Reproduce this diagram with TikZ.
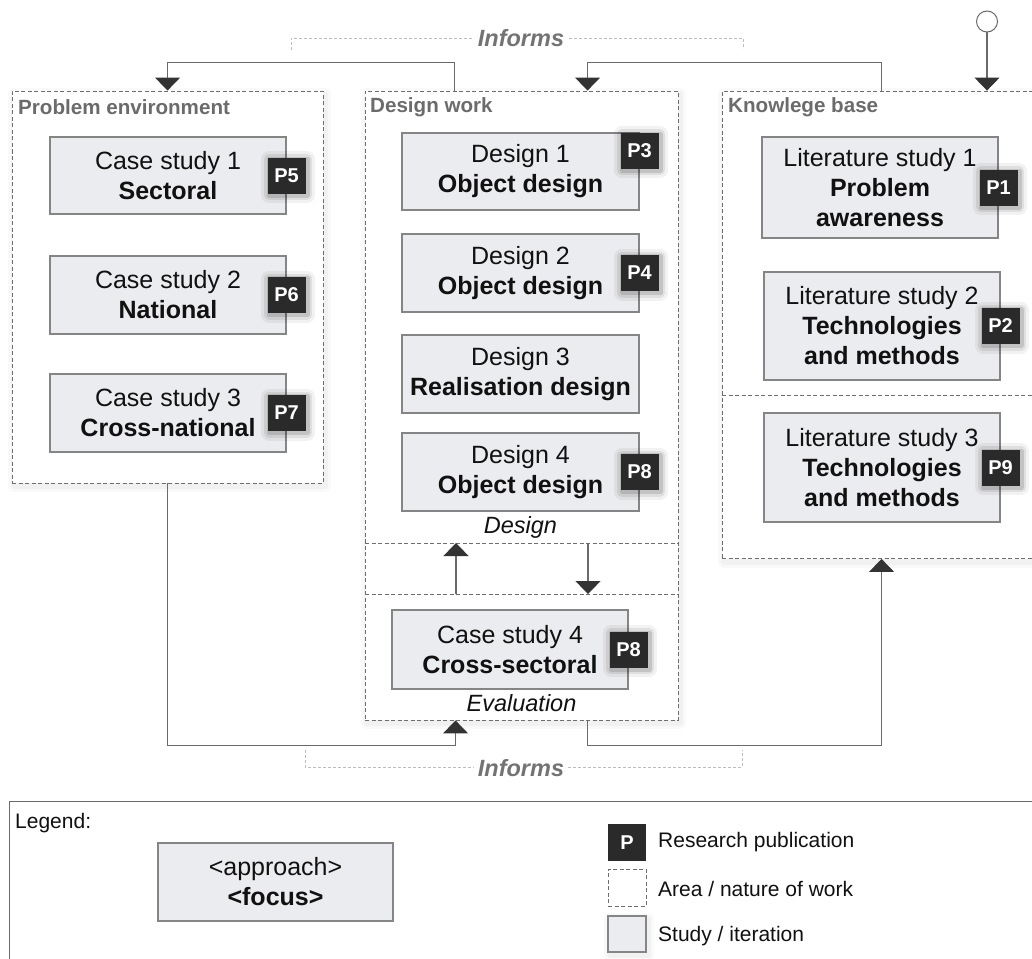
\documentclass[tikz,border=0pt]{standalone}
\usepackage{fontspec}
\setmainfont{Liberation Sans}
\usetikzlibrary{arrows.meta,calc}

\definecolor{boxfill}{HTML}{EBECEF}
\definecolor{boxline}{HTML}{858585}
\definecolor{badgec}{HTML}{2A2A2A}
\definecolor{panelline}{HTML}{6E6E6E}
\definecolor{titlegrey}{HTML}{6B6B6B}
\definecolor{connline}{HTML}{6A6A6A}
\definecolor{tipc}{HTML}{333333}
\definecolor{bracketc}{HTML}{BDBDBD}
\definecolor{informc}{HTML}{737373}
\definecolor{textc}{HTML}{111111}

\newcommand{\dgBoxFont}{\fontsize{25}{30}\selectfont}
\newcommand{\dgTitleFont}{\fontsize{20.6}{24}\selectfont\bfseries}
\newcommand{\dgBadgeFont}{\fontsize{20}{24}\selectfont\bfseries}
\newcommand{\dgCapFont}{\fontsize{23.5}{28}\selectfont\itshape}
\newcommand{\dgInformFont}{\fontsize{23.5}{28}\selectfont\bfseries\itshape}
\newcommand{\dgLegFont}{\fontsize{21}{25}\selectfont}

\tikzset{
  % soft halo built from stacked translucent strokes
  softglow/.style={
    preaction={draw=black, draw opacity=0.05, line width=16pt, line join=round, solid,
      transform canvas={shift={(1.5pt,-1.5pt)}}},
    preaction={draw=black, draw opacity=0.08, line width=10pt, line join=round, solid,
      transform canvas={shift={(1.5pt,-1.5pt)}}},
    preaction={draw=black, draw opacity=0.12, line width=5pt, line join=round, solid,
      transform canvas={shift={(1.5pt,-1.5pt)}}}},
  faintshadow/.style={
    preaction={draw=black, draw opacity=0.025, line width=12pt, line join=round, solid,
      transform canvas={shift={(2pt,-3pt)}}},
    preaction={draw=black, draw opacity=0.03, line width=6pt, line join=round, solid,
      transform canvas={shift={(2pt,-3pt)}}}},
  panel/.style={faintshadow, draw=panelline, dash pattern=on 4pt off 2.5pt, line width=0.9pt,
    fill=white, inner sep=0pt},
  paneltitle/.style={anchor=west, inner sep=0pt, text=titlegrey, font=\dgTitleFont},
  study/.style={draw=boxline, fill=boxfill, line width=1.1pt, align=center,
    inner sep=0pt, text=textc, font=\dgBoxFont, minimum width=236pt},
  pbadge/.style={softglow, fill=badgec, text=white, font=\dgBadgeFont, minimum width=38pt,
    minimum height=36pt, inner sep=0pt},
  caption/.style={inner sep=0pt, text=textc, font=\dgCapFont},
  divider/.style={draw=panelline, dash pattern=on 4pt off 2.5pt, line width=0.9pt},
  conn/.style={draw=connline, line width=1.1pt},
  arr/.style={-{Triangle[width=25pt,length=13pt,color=tipc]}},
  bracket/.style={draw=bracketc, dash pattern=on 3pt off 2pt, line width=0.8pt},
  informs/.style={fill=white, inner xsep=4pt, inner ysep=0pt, text=informc, font=\dgInformFont},
  legtext/.style={anchor=west, inner sep=0pt, text=textc, font=\dgLegFont},
}

\begin{document}
\begin{tikzpicture}[x=1pt, y=-1pt]
  \useasboundingbox (0,0) rectangle (1032,958);
  \clip (0,0) rectangle (1032,958);
  \fill[white] (0,0) rectangle (1032,958);

  % --- the three areas of work ---
  \node[panel, minimum width=311pt, minimum height=392pt] (pe) at (167.5,287) {};
  \node[panel, minimum width=313pt, minimum height=629pt] (dw) at (521.5,405.5) {};
  \node[panel, minimum width=328pt, minimum height=467.5pt] (kb) at (886,324.75) {};

  \node[paneltitle] (pet) at (18,107) {Problem environment};
  \node[paneltitle] (dwt) at (370,107) {Design work};
  \node[paneltitle] (kbt) at (728,107) {Knowlege base};

  % dashed splits inside the areas
  \coordinate (dsA) at (365,543);
  \coordinate (dsB) at (365,594);
  \draw[divider] (dsA) -- (678,543);
  \draw[divider] (dsB) -- (678,594);
  \draw[divider] (722,395) -- (1050,395);

  % --- problem environment studies ---
  \node[study, minimum height=77pt] (cs1) at (168,175.5) {Case study 1\\\textbf{Sectoral}};
  \node[study, minimum height=78pt] (cs2) at (168,295) {Case study 2\\\textbf{National}};
  \node[study, minimum height=78pt] (cs3) at (168,413) {Case study 3\\\textbf{Cross-national}};
  \node[pbadge] (p5) at (cs1.east) {P5};
  \node[pbadge] (p6) at (cs2.east) {P6};
  \node[pbadge] (p7) at (cs3.east) {P7};

  % --- design iterations ---
  \node[study, minimum height=77pt, minimum width=237pt] (d1) at (520.5,171.5) {Design 1\\\textbf{Object design}};
  \node[study, minimum height=78pt, minimum width=237pt] (d2) at (520.5,273) {Design 2\\\textbf{Object design}};
  \node[study, minimum height=78pt, minimum width=237pt] (d3) at (520.5,374) {Design 3\\\textbf{Realisation design}};
  \node[study, minimum height=78pt, minimum width=237pt] (d4) at (520.5,472) {Design 4\\\textbf{Object design}};
  \node[pbadge, anchor=north] (p3) at (d1.north east) {P3};
  \node[pbadge] (p4) at (d2.east) {P4};
  \node[pbadge] (p8a) at (d4.east) {P8};
  \node[caption] (capd) at (520.5,527) {Design};

  \node[study, minimum height=79pt] (cs4) at (510,649.5) {Case study 4\\\textbf{Cross-sectoral}};
  \node[pbadge] (p8b) at (cs4.east) {P8};
  \node[caption] (cape) at (521.5,703) {Evaluation};

  % --- literature studies ---
  \node[study, minimum height=101pt] (ls1) at (880,187.5) {Literature study 1\\\textbf{Problem}\\\textbf{awareness}};
  \node[study, minimum height=108pt] (ls2) at (882,326) {Literature study 2\\\textbf{Technologies}\\\textbf{and methods}};
  \node[study, minimum height=109pt] (ls3) at (882,467.5) {Literature study 3\\\textbf{Technologies}\\\textbf{and methods}};
  \node[pbadge] (p1) at (ls1.east) {P1};
  \node[pbadge] (p2) at (ls2.east) {P2};
  \node[pbadge] (p9) at (ls3.east) {P9};

  % --- "Informs" brackets ---
  \draw[bracket] (291,50) -- (291,38) -- (743,38) -- (743,49);
  \node[informs] (inf1) at (521,38.5) {Informs};
  \draw[bracket] (305,750) -- (305,767) -- (742,767) -- (742,750);
  \node[informs] (inf2) at (521,768) {Informs};

  % --- connectors along the top ---
  \draw[conn, arr] ($(dw.north west)+(90,0)$) -- ++(0,-28) -| ($(pe.north west)+(156,0)$);
  \draw[conn, arr] ($(kb.north west)+(160,0)$) -- ++(0,-28) -| ($(dw.north west)+(223,0)$);
  \node[circle, draw=connline, line width=1pt, fill=white, minimum size=21pt, inner sep=0pt] (src) at (987,21.5) {};
  \draw[conn, arr] (src.south) -- (src.south |- kb.north);

  % --- connectors along the bottom ---
  \draw[conn, arr] ($(pe.south west)+(156,0)$) -- ++(0,262) -| ($(dw.south west)+(91,0)$);
  \draw[conn, arr] ($(dw.south west)+(223,0)$) -- ++(0,25) -| ($(kb.south west)+(160,0)$);

  % --- design / evaluation cycle ---
  \coordinate (evup) at ($(dsB)+(91,0)$);
  \coordinate (deup) at ($(dsA)+(91,0)$);
  \coordinate (dedown) at ($(dsA)+(223,0)$);
  \coordinate (evdown) at ($(dsB)+(223,0)$);
  \draw[conn, arr] (evup) -- (deup);
  \draw[conn, arr] (dedown) -- (evdown);

  % --- legend ---
  \draw[draw=connline, line width=1pt] (9.5,1000) -- (9.5,801) -- (1050,801);
  \node[legtext] (legt) at (15,823) {Legend:};
  \node[study, minimum width=235pt, minimum height=78pt] (lgs) at (275.5,882) {<approach>\\\textbf{<focus>}};
  \node[fill=badgec, text=white, font=\dgBadgeFont, minimum width=38pt, minimum height=37pt, inner sep=0pt] (lgp) at (627,842.5) {P};
  \node[draw=panelline, dash pattern=on 4pt off 2.5pt, line width=0.9pt, fill=white, minimum width=38pt, minimum height=37pt, inner sep=0pt] (lga) at (627,887.5) {};
  \node[faintshadow, draw=boxline, fill=boxfill, line width=1.1pt, minimum width=38pt, minimum height=36pt, inner sep=0pt] (lgb) at (627,934) {};
  \node[legtext] at (658,842) {Research publication};
  \node[legtext] at (658,889) {Area / nature of work};
  \node[legtext] at (658,936) {Study / iteration};
\end{tikzpicture}
\end{document}
